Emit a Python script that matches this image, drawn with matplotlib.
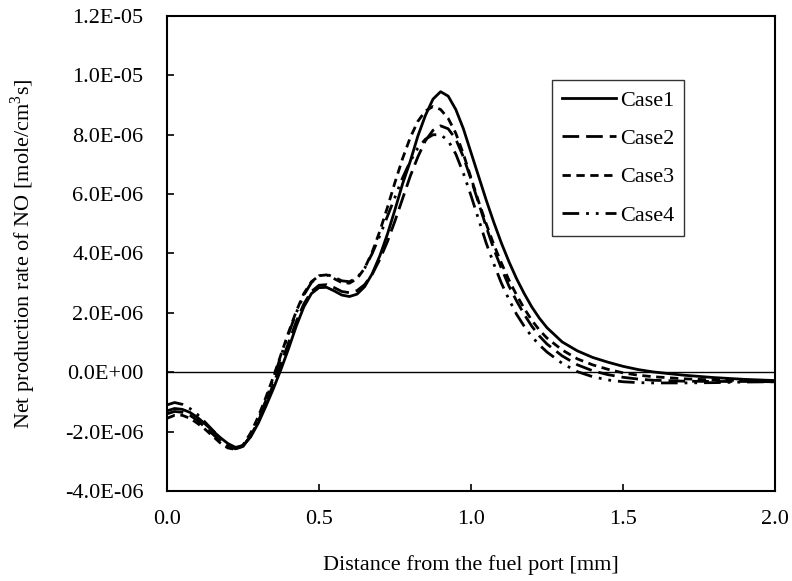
import matplotlib
matplotlib.use("Agg")
import matplotlib.pyplot as plt
import numpy as np

plt.rcParams['font.family'] = ['Liberation Serif', 'DejaVu Serif']
plt.rcParams['mathtext.fontset'] = 'custom'
plt.rcParams['mathtext.rm'] = 'Liberation Serif'

# distance from the fuel port [mm]
distance = [0.0, 0.025, 0.05, 0.075, 0.1, 0.125, 0.15, 0.175, 0.2, 0.225,
            0.25, 0.275, 0.3, 0.325, 0.35, 0.375, 0.4, 0.425, 0.45, 0.475,
            0.5, 0.525, 0.55, 0.575, 0.6, 0.625, 0.65, 0.675, 0.7, 0.725,
            0.75, 0.775, 0.8, 0.825, 0.85, 0.875, 0.9, 0.925, 0.95, 0.975,
            1.0, 1.025, 1.05, 1.075, 1.1, 1.125, 1.15, 1.175, 1.2, 1.225,
            1.25, 1.3, 1.35, 1.4, 1.45, 1.5, 1.55, 1.6, 1.7, 1.8, 1.9, 2.0]

# net production rate of NO, in 1E-06 mole/cm3s
case1 = [-1.30, -1.22, -1.25, -1.35, -1.52, -1.74, -1.97, -2.20, -2.40, -2.53,
         -2.47, -2.18, -1.72, -1.15, -0.55, 0.10, 0.80, 1.55, 2.20, 2.65,
         2.85, 2.86, 2.74, 2.60, 2.55, 2.63, 2.88, 3.32, 3.92, 4.65,
         5.48, 6.35, 7.10, 7.95, 8.65, 9.20, 9.45, 9.30, 8.85, 8.20,
         7.40, 6.60, 5.80, 5.05, 4.35, 3.72, 3.15, 2.65, 2.20, 1.82,
         1.50, 1.02, 0.72, 0.50, 0.34, 0.20, 0.09, 0.01, -0.10, -0.18, -0.24, -0.28]
case2 = [-1.40, -1.32, -1.35, -1.45, -1.62, -1.85, -2.08, -2.32, -2.50, -2.58,
         -2.48, -2.15, -1.65, -1.05, -0.40, 0.30, 1.00, 1.70, 2.30, 2.72,
         2.93, 2.95, 2.85, 2.72, 2.68, 2.75, 2.95, 3.30, 3.80, 4.40,
         5.10, 5.85, 6.60, 7.25, 7.80, 8.15, 8.30, 8.20, 7.85, 7.25,
         6.50, 5.70, 4.90, 4.15, 3.50, 2.90, 2.40, 1.95, 1.55, 1.22,
         0.95, 0.55, 0.25, 0.05, -0.08, -0.17, -0.23, -0.27, -0.30, -0.31, -0.31, -0.32]
case3 = [-1.55, -1.45, -1.45, -1.55, -1.72, -1.92, -2.15, -2.38, -2.55, -2.60,
         -2.45, -2.05, -1.50, -0.85, -0.15, 0.60, 1.35, 2.05, 2.65, 3.05,
         3.25, 3.28, 3.15, 3.02, 3.00, 3.15, 3.50, 4.05, 4.75, 5.55,
         6.40, 7.20, 7.90, 8.45, 8.80, 8.95, 8.85, 8.55, 8.05, 7.35,
         6.55, 5.75, 5.00, 4.30, 3.68, 3.10, 2.60, 2.15, 1.75, 1.42,
         1.15, 0.75, 0.45, 0.25, 0.10, -0.02, -0.10, -0.15, -0.22, -0.26, -0.28, -0.30]
case4 = [-1.10, -1.02, -1.08, -1.22, -1.42, -1.68, -1.95, -2.22, -2.45, -2.58,
         -2.50, -2.15, -1.60, -0.95, -0.20, 0.55, 1.30, 2.00, 2.60, 3.02,
         3.25, 3.30, 3.20, 3.08, 3.05, 3.18, 3.50, 4.00, 4.60, 5.25,
         5.90, 6.55, 7.10, 7.55, 7.85, 8.00, 8.00, 7.80, 7.35, 6.70,
         5.95, 5.15, 4.35, 3.65, 3.00, 2.45, 1.95, 1.55, 1.20, 0.92,
         0.68, 0.30, 0.02, -0.15, -0.26, -0.32, -0.35, -0.36, -0.36, -0.35, -0.33, -0.32]

labels = ["Case1", "Case2", "Case3", "Case4"]
unit = 1e-6

x_ticks = [0.0, 0.5, 1.0, 1.5, 2.0]
x_tick_labels = ["0.0", "0.5", "1.0", "1.5", "2.0"]
y_ticks = [-4e-6, -2e-6, 0.0, 2e-6, 4e-6, 6e-6, 8e-6, 1e-5, 1.2e-5]
y_tick_labels = ["-4.0E-06", "-2.0E-06", "0.0E+00", "2.0E-06", "4.0E-06",
                 "6.0E-06", "8.0E-06", "1.0E-05", "1.2E-05"]

fig = plt.figure(figsize=(7.92, 5.81), dpi=100)
ax = fig.add_axes([0.2109, 0.1549, 0.7676, 0.8176])

styles = [
    dict(linestyle='-'),
    dict(linestyle=(0, (6, 2.5))),
    dict(linestyle=(0, (3, 2))),
    dict(linestyle=(0, (6, 2.5, 1, 2.5, 1, 2.5))),
]
x = np.array(distance)
for series, lab, st in zip([case1, case2, case3, case4], labels, styles):
    ax.plot(x, np.array(series) * unit, color='black', lw=2.0,
            label=lab, **st)

ax.axhline(0.0, color='black', lw=1.0, zorder=1)

ax.set_xlim(0.0, 2.0)
ax.set_ylim(-4e-6, 1.2e-5)
ax.set_xticks(x_ticks)
ax.set_xticklabels(x_tick_labels)
ax.set_yticks(y_ticks)
ax.set_yticklabels(y_tick_labels)
ax.tick_params(direction='in', length=5, width=1.2, labelsize=16,
               top=False, right=False)
ax.tick_params(axis='y', pad=17)
ax.tick_params(axis='x', pad=14)
for sp in ax.spines.values():
    sp.set_linewidth(1.5)

ax.set_xlabel("Distance from the fuel port [mm]", fontsize=16)
ax.set_ylabel("Net production rate of NO [mole/cm$^3$s]", fontsize=16)
ax.xaxis.set_label_coords(0.5, -0.134)
ax.yaxis.set_label_coords(-0.213, 0.5)

leg = ax.legend(loc='upper left', bbox_to_anchor=(0.633, 0.865),
                fontsize=16, frameon=True, fancybox=False,
                handlelength=2.45, handletextpad=0.15, labelspacing=0.8,
                borderpad=0.45, borderaxespad=0.0)
leg.get_frame().set_edgecolor('black')
leg.get_frame().set_linewidth(1.0)

fig.savefig("out.png", dpi=100)
